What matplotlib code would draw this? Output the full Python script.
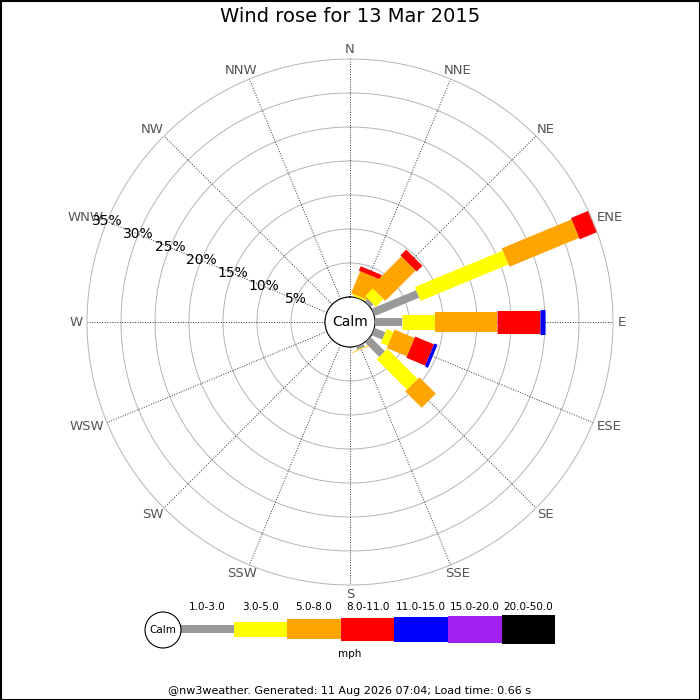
import numpy as np
import matplotlib
matplotlib.use("Agg")
import matplotlib.pyplot as plt
from matplotlib.patches import Circle, Rectangle

# --- data ---
directions = ["N", "NNE", "NE", "ENE", "E", "ESE", "SE", "SSE",
              "S", "SSW", "SW", "WSW", "W", "WNW", "NW", "NNW"]
speed_bins = ["1.0-3.0", "3.0-5.0", "5.0-8.0", "8.0-11.0",
              "11.0-15.0", "15.0-20.0", "20.0-50.0"]
bin_colors = ["#999999", "#ffff00", "#ffa500", "#ff0000",
              "#0000ff", "#a020f0", "#000000"]
bin_widths = [8, 15, 20, 23, 25, 27, 29]  # pixel thickness per class

# percent of time per direction, one list per speed class
freq_1_3 = [0, 0.05, 0.6, 7.1, 3.9, 1.7, 3.0, 0.5, 0, 0, 0, 0, 0, 0, 0, 0]
freq_3_5 = [0, 0.25, 1.6, 14.0, 4.9, 1.1, 6.3, 0.08, 0, 0, 0, 0, 0, 0, 0, 0]
freq_5_8 = [0, 3.5, 6.3, 11.1, 9.2, 3.2, 3.4, 0.08, 0, 0, 0, 0, 0, 0, 0, 0]
freq_8_11 = [0, 0.7, 1.2, 2.7, 6.3, 3.0, 0, 0, 0, 0, 0, 0, 0, 0, 0, 0]
freq_11_15 = [0, 0, 0, 0, 0.7, 0.5, 0, 0, 0, 0, 0, 0, 0, 0, 0, 0]
freq_15_20 = [0] * 16
freq_20_50 = [0] * 16
series = [freq_1_3, freq_3_5, freq_5_8, freq_8_11,
          freq_11_15, freq_15_20, freq_20_50]

rings = [5, 10, 15, 20, 25, 30, 35]
title = "Wind rose for 13 Mar 2015"
footer = "@nw3weather. Generated: 11 Aug 2026 07:04; Load time: 0.66 s"

# --- figure ---
fig = plt.figure(figsize=(7, 7), dpi=100)
ax = fig.add_axes([87 / 700, 115 / 700, 526 / 700, 526 / 700], projection="polar")
ax.set_theta_zero_location("N")
ax.set_theta_direction(-1)
ax.set_ylim(0, 35)
ax.set_rorigin(-3.676)
ax.grid(False)
ax.set_xticks([])
ax.set_yticks([])
ax.spines["polar"].set_visible(False)

theta = np.deg2rad(np.arange(16) * 22.5)
full = np.linspace(0, 2 * np.pi, 361)

for r in rings:
    ax.plot(full, np.full_like(full, r), color="#b4b4b4", lw=0.7,
            zorder=1, clip_on=False)
ax.plot(full, np.zeros_like(full), color="#999999", lw=0.8, zorder=1)

for t in theta:
    ax.plot([t, t], [0, 35], color="#333333", lw=0.7,
            ls=(0, (1, 1.6)), zorder=1)

# stacked bars as thick radial lines
for i, t in enumerate(theta):
    bottom = 0
    for k, s in enumerate(series):
        v = s[i]
        if v > 0:
            ax.plot([t, t], [bottom, bottom + v], color=bin_colors[k],
                    lw=bin_widths[k] * 0.72, solid_capstyle="butt", zorder=3)
            bottom += v

# compass labels: text box pushed outward from a point just past the ring
renderer = fig.canvas.get_renderer()
for t, name in zip(theta, directions):
    txt = ax.annotate(name, xy=(t, 35.7), xytext=(0, 0),
                      textcoords="offset points", ha="center", va="center",
                      fontsize=9.5, color="#555555", annotation_clip=False)
    w = txt.get_window_extent(renderer).width
    h = 10
    dx = 0.5 * w * np.sin(t)
    dy = 0.5 * h * np.cos(t)
    txt.xyann = (dx * 0.72, dy * 0.72)

for r in rings:
    ax.text(np.deg2rad(292.5), r, f"{r}%", ha="center", va="center",
            fontsize=10, color="black", zorder=4)

ax.text(0.5, 0.5, "Calm", transform=ax.transAxes, ha="center",
        va="center", fontsize=10, zorder=5)

# --- overlay in pixel coords: title, legend, footer ---
lax = fig.add_axes([0, 0, 1, 1], facecolor="none")
lax.set_xlim(0, 700)
lax.set_ylim(700, 0)
lax.axis("off")

lax.text(350, 17, title, ha="center", va="center", fontsize=14)

seg_w = 53.6
seg_x = [180 + seg_w * (k + 0.5) for k in range(len(speed_bins))]
lax.bar(seg_x, bin_widths, bottom=[629 - w / 2 for w in bin_widths],
        width=seg_w, color=bin_colors, linewidth=0)
for x, lab in zip(seg_x, speed_bins):
    lax.text(x, 607, lab, ha="center", va="center", fontsize=7.5)
lax.add_patch(Circle((163, 630), 18, facecolor="white",
                     edgecolor="black", lw=0.8, zorder=3))
lax.text(163, 630, "Calm", ha="center", va="center", fontsize=7.5, zorder=4)
lax.text(350, 654, "mph", ha="center", va="center", fontsize=7.5)
lax.text(350, 691, footer, ha="center", va="center", fontsize=8)

lax.add_patch(Rectangle((0.5, 0.5), 699, 699, fill=False,
                        edgecolor="black", lw=1.5, clip_on=False))

fig.savefig("out.png", dpi=100)
